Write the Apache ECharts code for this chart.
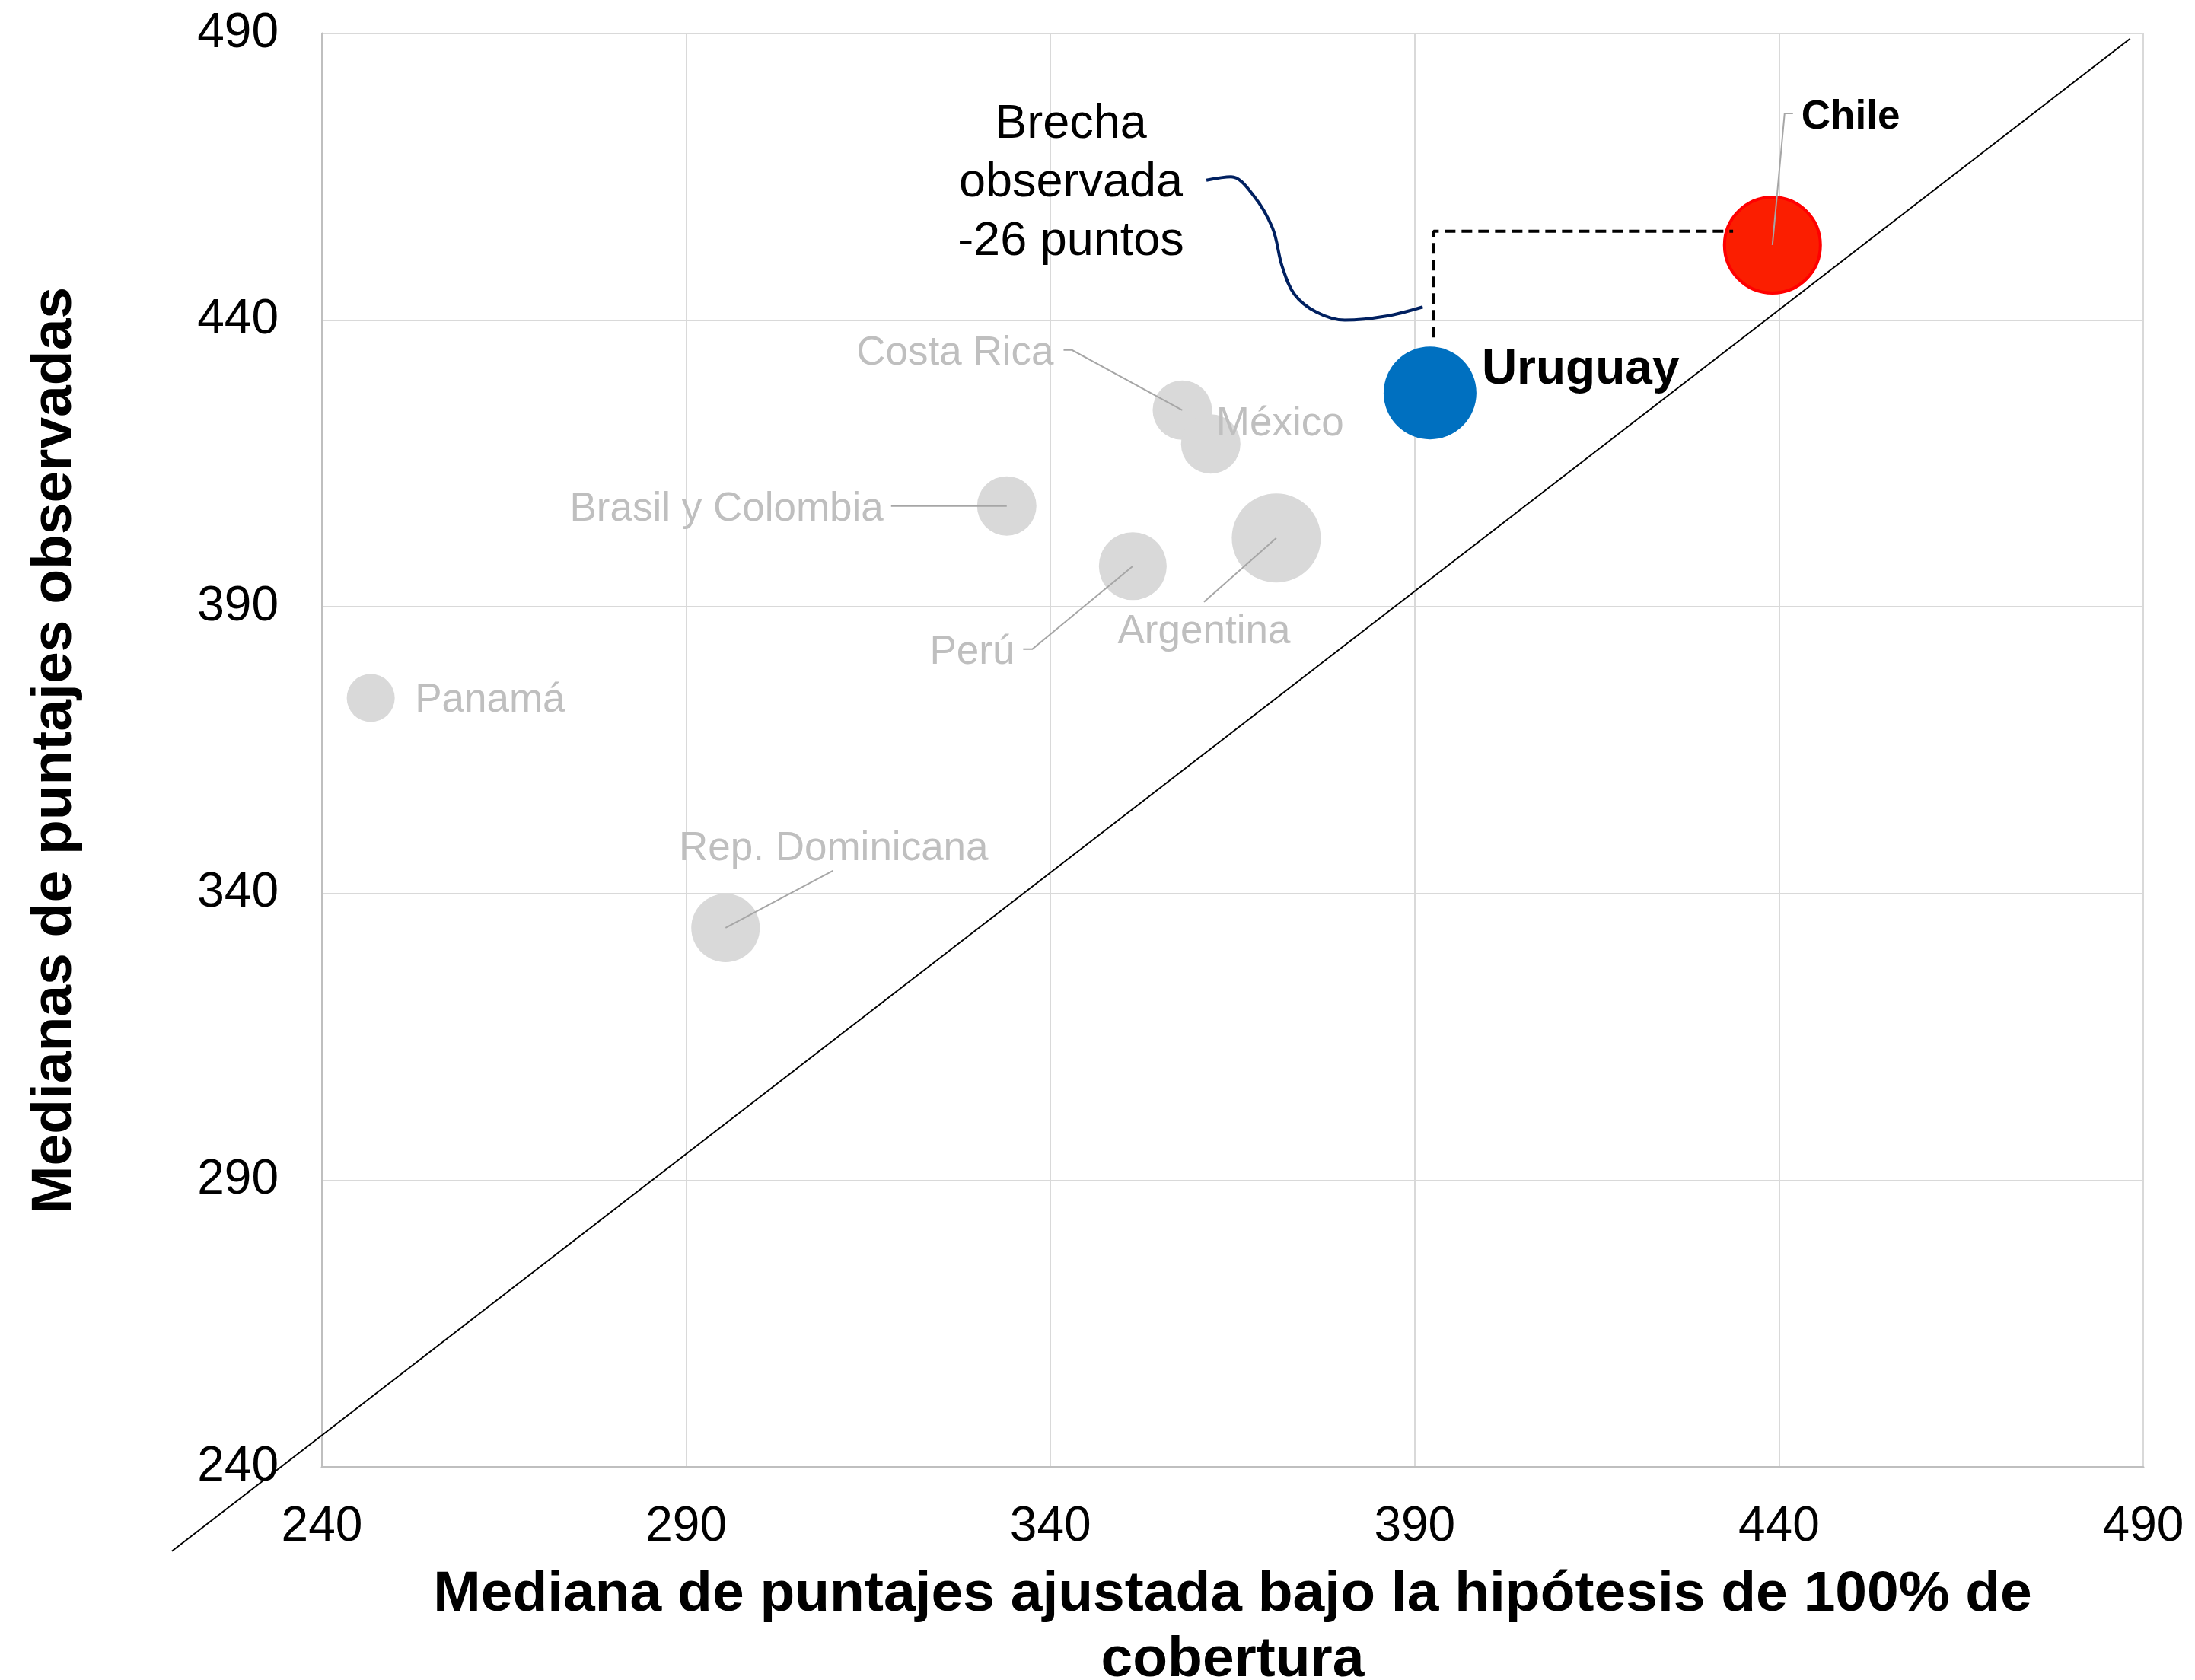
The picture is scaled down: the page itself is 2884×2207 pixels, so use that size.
<!DOCTYPE html>
<html>
<head>
<meta charset="utf-8">
<script src="https://cdn.jsdelivr.net/npm/echarts@6/dist/echarts.min.js"></script>
<style>
html,body{margin:0;padding:0;background:#ffffff;overflow:hidden;width:100%;height:100%;}
#chart{width:100vw;height:100vh;display:block;}
</style>
</head>
<body>
<div id="chart"></div>
<script>
// ---------------- data ----------------
const countries = ['Costa Rica', 'México', 'Brasil y Colombia', 'Argentina', 'Perú', 'Panamá', 'Rep. Dominicana', 'Uruguay', 'Chile'];
const adjustedMedian = [358.1, 362.0, 334.0, 371.0, 351.3, 246.7, 295.4, 392.1, 439.1];
const observedMedian = [424.3, 418.4, 407.6, 402.0, 397.1, 374.1, 334.0, 427.3, 453.1];
const bubbleValue = [36, 36, 36, 81, 47, 23.5, 48, 88, 100];
const axisTicks = [240, 290, 340, 390, 440, 490];

// reference (diagonal) line endpoints
const diagonalX = [219.4, 488.2];
const diagonalY = [225.3, 489.1];
// dashed gap bracket Uruguay -> Chile
const gapBracketX = [392.6, 392.6, 433.7];
const gapBracketY = [437.0, 455.5, 455.5];
// callout curve
const calloutX = [361.4, 364.8, 367.9, 370.5, 371.8, 373.5, 376.5, 380.4, 386.1, 391.1];
const calloutY = [464.4, 465.0, 461.7, 456.0, 449.4, 444.5, 441.4, 440.0, 440.7, 442.3];
const gapNote = 'Brecha\nobservada\n-26 puntos';

const xTitle = 'Mediana de puntajes ajustada bajo la hipótesis de 100% de\ncobertura';
const yTitle = 'Medianas de puntajes observadas';

// ---------------- styles ----------------
const FONT = "'Liberation Sans', Arial, Helvetica, sans-serif";
const GREY_TXT = '#bfbfbf';
const LEADER = '#a6a6a6';
const TEXT_SHIFT = 5;
// label placement relative to bubble centre (px)
const labelStyle = [
  {dx: -169, dy: -79, align: 'right', leader: [[0,0],[-145,-79],[-156,-79]]},
  {dx: 7, dy: -31, align: 'left'},
  {dx: -162, dy: 0, align: 'right', leader: [[0,0],[-152,0]]},
  {dx: -95, dy: 119, align: 'center', leader: [[0,0],[-95,84]]},
  {dx: -155, dy: 109, align: 'right', leader: [[0,0],[-132,109],[-144,109]]},
  {dx: 58, dy: -2, align: 'left'},
  {dx: 142, dy: -109, align: 'center', leader: [[0,0],[141,-75]]},
  {dx: 68, dy: -35, align: 'left', bold: true, size: 64, color: '#000'},
  {dx: 38, dy: -173, align: 'left', bold: true, size: 53, color: '#000', leader: [[0,0],[16,-173],[27,-173]]}
];

const sizeOf = v => Math.sqrt(v) * 13;
const pt = i => [adjustedMedian[i], observedMedian[i], bubbleValue[i]];
const greyIdx = [0, 1, 2, 3, 4, 5, 6];

const chart = echarts.init(document.getElementById('chart'), null, {renderer: 'canvas'});

const axisCommon = {
  type: 'value', min: axisTicks[0], max: axisTicks[axisTicks.length - 1], interval: 50,
  axisLine: {show: true, lineStyle: {color: '#bfbfbf', width: 3}},
  axisTick: {show: false},
  splitLine: {show: true, lineStyle: {color: '#d9d9d9', width: 2}},
  nameLocation: 'middle',
  nameTextStyle: {fontFamily: FONT, fontSize: 75, fontWeight: 'bold', color: '#000'}
};

const option = {
  animation: false,
  backgroundColor: '#ffffff',
  grid: {left: 423, right: 68, top: 44, bottom: 280, containLabel: false, outerBoundsMode: 'none'},
  xAxis: Object.assign({}, axisCommon, {
    name: xTitle, nameGap: 125,
    nameTextStyle: Object.assign({}, axisCommon.nameTextStyle, {lineHeight: 86}),
    axisLabel: {fontFamily: FONT, fontSize: 64, color: '#000', margin: 47}
  }),
  yAxis: Object.assign({}, axisCommon, {
    name: yTitle, nameGap: 313, nameRotate: 90,
    axisLabel: {fontFamily: FONT, fontSize: 64, color: '#000', margin: 57, padding: [8, 0, 0, 0]}
  }),
  graphic: [{
    type: 'text', x: 1407, y: 241, z: 100,
    style: {text: gapNote, fontFamily: FONT, fontSize: 63, fill: '#000', align: 'center', verticalAlign: 'middle', lineHeight: 77}
  }],
  series: [
    {
      type: 'scatter', name: 'grey', z: 2,
      data: greyIdx.map(pt),
      symbolSize: d => sizeOf(d[2]),
      itemStyle: {color: '#d9d9d9', opacity: 1},
      emphasis: {disabled: true}
    },
    {
      type: 'scatter', name: 'Uruguay', z: 3,
      data: [pt(7)],
      symbolSize: d => sizeOf(d[2]),
      itemStyle: {color: '#0070c0', opacity: 1},
      emphasis: {disabled: true}
    },
    {
      type: 'scatter', name: 'Chile', z: 3,
      data: [pt(8)],
      symbolSize: d => sizeOf(d[2]) - 4,
      itemStyle: {color: '#fb1e00', borderColor: '#ff0000', borderWidth: 4, opacity: 1},
      emphasis: {disabled: true}
    },
    {
      type: 'custom', name: 'diag', z: 5, clip: false,
      coordinateSystem: 'cartesian2d',
      encode: {x: [0, 2], y: [1, 3]},
      data: [[diagonalX[0], diagonalY[0], diagonalX[1], diagonalY[1]]],
      renderItem: function (params, api) {
        const a = api.coord([api.value(0), api.value(1)]);
        const b = api.coord([api.value(2), api.value(3)]);
        return {type: 'line', shape: {x1: a[0], y1: a[1], x2: b[0], y2: b[1]},
                style: {stroke: '#000', lineWidth: 2}};
      }
    },
    {
      type: 'line', name: 'bracket', z: 6, symbol: 'none',
      data: gapBracketX.map((x, i) => [x, gapBracketY[i]]),
      lineStyle: {color: '#000', width: 4, type: [14, 8]},
      emphasis: {disabled: true}
    },
    {
      type: 'line', name: 'callout', z: 6, symbol: 'none', smooth: 0.35,
      data: calloutX.map((x, i) => [x, calloutY[i]]),
      lineStyle: {color: '#002060', width: 4},
      emphasis: {disabled: true}
    },
    {
      type: 'custom', name: 'labels', z: 10,
      coordinateSystem: 'cartesian2d',
      encode: {x: 0, y: 1},
      data: countries.map((c, i) => [adjustedMedian[i], observedMedian[i], i]),
      renderItem: function (params, api) {
        const i = api.value(2);
        const p = api.coord([api.value(0), api.value(1)]);
        const L = labelStyle[i];
        const children = [];
        if (L.leader) {
          children.push({
            type: 'polyline',
            shape: {points: L.leader.map(d => [p[0] + d[0], p[1] + d[1]])},
            style: {stroke: LEADER, lineWidth: 2, fill: null}
          });
        }
        children.push({
          type: 'text',
          x: p[0] + L.dx, y: p[1] + L.dy + TEXT_SHIFT,
          style: {
            text: countries[i], fill: L.color || GREY_TXT,
            fontFamily: FONT, fontSize: L.size || 53, fontWeight: L.bold ? 'bold' : 'normal',
            align: L.align, verticalAlign: 'middle'
          }
        });
        return {type: 'group', children: children};
      }
    }
  ]
};
chart.setOption(option);
window.addEventListener('resize', () => chart.resize());
</script>
</body>
</html>
